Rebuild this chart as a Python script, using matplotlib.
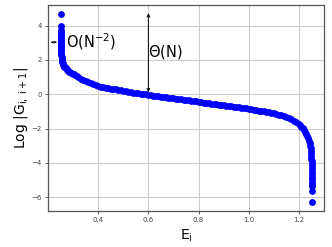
import matplotlib
matplotlib.use("Agg")
import matplotlib.pyplot as plt

plt.rcParams["mathtext.default"] = "regular"

# eigenvalue E_i (x) and log|G_{i,i+1}| (y)
energy = [
    0.2500, 0.2500, 0.2501, 0.2502, 0.2503, 0.2504, 0.2505, 0.2506, 0.2508, 0.2510,
    0.2512, 0.2514, 0.2517, 0.2520, 0.2523, 0.2527, 0.2533, 0.2540, 0.2550, 0.2560,
    0.2575, 0.2590, 0.2610, 0.2630, 0.2655, 0.2680, 0.2710, 0.2740, 0.2775, 0.2810,
    0.2850, 0.2890, 0.2935, 0.2980, 0.3030, 0.3080, 0.3140, 0.3200,
    0.33, 0.34, 0.35, 0.36, 0.37, 0.38, 0.39, 0.40, 0.41, 0.42,
    0.43, 0.44, 0.45, 0.46, 0.47, 0.48, 0.49, 0.50, 0.51, 0.52,
    0.53, 0.54, 0.55, 0.56, 0.57, 0.58, 0.59, 0.60, 0.61, 0.62,
    0.63, 0.64, 0.65, 0.66, 0.67, 0.68, 0.69, 0.70, 0.71, 0.72,
    0.73, 0.74, 0.75, 0.76, 0.77, 0.78, 0.79, 0.80, 0.81, 0.82,
    0.83, 0.84, 0.85, 0.86, 0.87, 0.88, 0.89, 0.90, 0.91, 0.92,
    0.93, 0.94, 0.95, 0.96, 0.97, 0.98, 0.99, 1.00, 1.01, 1.02,
    1.03, 1.04, 1.05, 1.06, 1.07, 1.08, 1.09, 1.10, 1.11, 1.12,
    1.13, 1.14, 1.15, 1.16, 1.17, 1.18, 1.19, 1.20, 1.205, 1.21,
    1.215, 1.22, 1.225, 1.23, 1.234, 1.238, 1.241, 1.244, 1.246, 1.2475,
    1.2485, 1.2492, 1.2497, 1.2500, 1.2501, 1.2502, 1.2503, 1.2503, 1.2504, 1.2504,
    1.2505, 1.2505, 1.2505, 1.2505, 1.2505, 1.2505, 1.2505,
]
log_g = [
    4.69, 4.00, 3.76, 3.60, 3.48, 3.37, 3.27, 3.17, 3.07, 2.97,
    2.87, 2.77, 2.67, 2.57, 2.47, 2.37, 2.26, 2.16, 2.05, 1.96,
    1.87, 1.80, 1.73, 1.67, 1.61, 1.56, 1.51, 1.46, 1.41, 1.37,
    1.32, 1.28, 1.24, 1.20, 1.15, 1.11, 1.05, 0.99,
    0.91, 0.84, 0.77, 0.71, 0.65, 0.59, 0.54, 0.49, 0.45, 0.42,
    0.39, 0.36, 0.33, 0.30, 0.28, 0.25, 0.23, 0.20, 0.18, 0.15,
    0.13, 0.10, 0.08, 0.06, 0.03, 0.01, -0.01, -0.04, -0.06, -0.08,
    -0.10, -0.12, -0.14, -0.16, -0.18, -0.20, -0.22, -0.24, -0.26, -0.28,
    -0.30, -0.32, -0.34, -0.36, -0.38, -0.40, -0.42, -0.45, -0.47, -0.49,
    -0.51, -0.53, -0.55, -0.57, -0.59, -0.61, -0.63, -0.65, -0.67, -0.69,
    -0.71, -0.73, -0.75, -0.77, -0.79, -0.81, -0.83, -0.85, -0.87, -0.90,
    -0.92, -0.95, -0.97, -1.00, -1.03, -1.06, -1.09, -1.12, -1.15, -1.19,
    -1.23, -1.27, -1.32, -1.38, -1.45, -1.53, -1.62, -1.73, -1.80, -1.88,
    -1.97, -2.07, -2.18, -2.31, -2.43, -2.57, -2.70, -2.85, -3.00, -3.15,
    -3.30, -3.45, -3.60, -3.75, -3.90, -4.05, -4.20, -4.35, -4.50, -4.65,
    -4.80, -4.95, -5.10, -5.22, -5.35, -5.65, -6.30,
]

fig = plt.figure(figsize=(3.32, 2.47), dpi=100)
ax = fig.add_axes([0.1446, 0.1457, 0.8314, 0.8343])

ax.scatter(energy, log_g, s=24, color="blue", linewidths=0)

ax.set_xlim(0.2, 1.3)
ax.set_ylim(-6.8, 5.2)
ax.set_xticks([0.4, 0.6, 0.8, 1.0, 1.2])
ax.set_yticks([-6, -4, -2, 0, 2, 4])
ax.set_axisbelow(True)
ax.grid(True, color="#cccccc", linewidth=0.8)
ax.tick_params(labelsize=5, colors="#444444", length=2.5, width=0.6, pad=2)
for sp in ax.spines.values():
    sp.set_color("#555555")
    sp.set_linewidth(0.9)

ax.set_xlabel("E$_{i}$", fontsize=10, labelpad=3)
ax.set_ylabel("Log |G$_{i,\\ i+1}$|", fontsize=10, labelpad=1)

# Theta(N) span
ax.annotate("", xy=(0.6, 4.72), xytext=(0.6, 0.12),
            arrowprops=dict(arrowstyle="<->", color="black", lw=0.7,
                            shrinkA=0, shrinkB=0, mutation_scale=5))
ax.text(0.6, 2.45, "$\\Theta$(N)", fontsize=10.5, va="center", ha="left")

# O(N^-2) gap
ax.annotate("", xy=(0.211, 3.03), xytext=(0.236, 3.03),
            arrowprops=dict(arrowstyle="<->", color="black", lw=0.6,
                            shrinkA=0, shrinkB=0, mutation_scale=3))
ax.text(0.272, 3.05, "O(N$^{-2}$)", fontsize=10.5, va="center", ha="left")

fig.savefig("out.png", dpi=100)
